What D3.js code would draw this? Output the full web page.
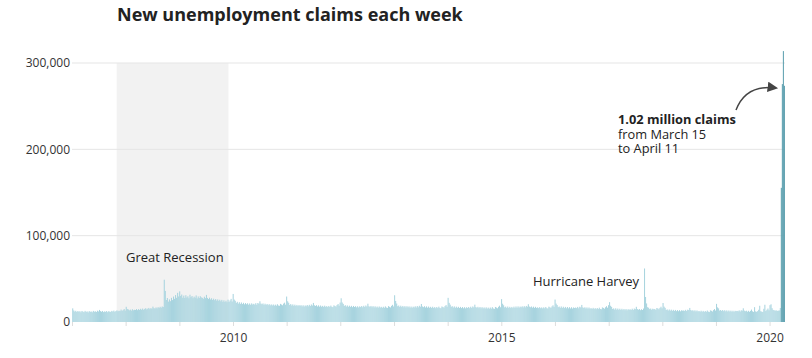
<!DOCTYPE html>
<html>
<head>
<meta charset="utf-8">
<script src="https://cdn.jsdelivr.net/npm/d3@7"></script>
<style>
  html, body { margin: 0; padding: 0; background: #fff; }
  svg { display: block; font-family: "Open Sans", sans-serif; }
</style>
</head>
<body>
<svg id="chart" width="812" height="358"></svg>
<script>
// Weekly new unemployment claims (thousands), weeks ending Saturday
const claims2007 = [15.8,13.4,12.1,13.0,11.6,12.7,11.9,12.5,11.2,12.8,12.0,11.4,12.9,11.7,12.3,11.1,12.6,11.8,12.2,11.3,12.9,11.9,12.4,11.6,13.1,12.2,14.0,12.6,11.9,12.8,11.5,12.3,11.8,12.7,11.4,12.5,12.0,11.7,12.9,12.1,13.2,11.8,12.7,13.5,12.4,13.1,12.6,14.4,12.9,13.8,15.0,13.2];
const claims2008 = [17.6,15.1,14.6,13.5,14.4,13.2,14.8,13.6,14.2,13.9,15.0,13.7,14.9,14.0,15.3,14.2,15.6,14.1,15.2,16.0,14.6,15.5,16.3,14.9,16.1,15.4,17.8,16.0,15.7,16.9,15.8,17.2,16.3,17.6,16.5,18.0,17.4,49.0,36.0,25.5,27.8,23.6,26.2,24.1,28.0,25.4,29.5,26.8,31.2,28.0,33.8,29.6];
const claims2009 = [35.5,30.2,31.8,28.1,30.6,27.9,31.0,28.4,29.8,27.5,31.6,28.8,30.1,27.6,29.4,28.2,30.8,27.3,29.6,27.8,29.9,28.5,28.0,26.9,29.3,27.7,31.4,27.9,26.6,28.2,26.1,27.5,25.6,27.0,25.3,26.6,24.8,26.2,24.5,25.8,24.0,25.6,23.4,25.1,23.2,24.7,22.9,25.9,23.3,25.0,26.8,23.8];
const claims2010 = [32.5,26.0,24.6,22.1,23.4,21.3,22.9,21.0,22.6,20.8,22.2,20.5,21.9,20.6,21.7,20.1,21.5,20.0,21.6,20.3,21.1,20.2,21.8,20.0,22.0,21.2,24.0,21.4,20.6,21.5,19.9,21.2,19.8,20.9,19.5,20.7,19.3,20.4,19.2,20.3,19.0,20.1,18.9,20.6,19.1,18.8,21.0,20.2,19.4,21.3,22.4,20.1];
const claims2011 = [29.5,24.0,22.3,19.7,20.8,19.1,20.4,18.8,20.1,18.6,19.8,18.4,19.6,18.7,19.5,18.1,19.4,17.9,19.2,18.3,19.7,18.2,19.9,18.5,20.3,19.1,22.1,19.4,18.6,19.5,18.0,19.3,17.8,19.1,17.7,18.7,17.5,18.9,17.6,18.4,17.3,18.6,17.4,19.0,17.6,17.2,19.3,18.5,17.8,19.6,20.8,18.9,22.5];
const claims2012 = [27.5,22.6,21.0,18.6,19.5,17.9,19.2,17.6,18.9,17.5,18.7,17.2,18.6,17.4,18.3,17.0,18.2,16.9,18.1,17.3,18.5,17.1,18.8,17.4,19.1,18.0,21.2,18.3,17.5,18.6,17.1,18.4,16.9,18.2,16.8,17.9,16.6,18.0,16.7,17.6,16.4,17.7,16.5,18.1,16.8,16.3,18.4,17.6,16.9,18.7,19.9,18.0];
const claims2013 = [31.0,24.4,21.4,18.3,19.1,17.5,18.9,17.3,18.6,17.1,18.4,16.9,18.3,17.0,18.1,16.6,17.9,16.5,17.8,16.9,18.2,16.8,18.5,17.0,18.8,17.7,20.9,18.0,17.2,18.3,16.8,18.1,16.6,17.9,16.5,17.6,16.3,17.7,16.2,17.3,16.0,17.4,16.1,17.8,16.4,15.9,18.0,17.3,16.6,18.4,19.6,17.7];
const claims2014 = [28.0,22.2,20.1,17.6,18.3,16.8,18.1,16.5,17.8,16.4,17.6,16.2,17.5,16.1,17.3,15.9,17.2,15.8,17.1,16.2,17.4,16.0,17.7,16.3,18.0,17.0,20.1,17.3,16.5,17.6,16.1,17.4,15.9,17.2,15.8,16.9,15.6,17.0,15.5,16.7,15.4,16.8,15.5,17.2,15.7,15.2,17.4,16.7,15.9,17.6,18.9,17.1];
const claims2015 = [26.5,21.2,19.4,17.0,17.8,16.4,17.9,16.3,17.6,16.2,17.5,16.1,17.8,16.4,18.0,16.5,18.1,16.6,17.9,17.1,18.2,16.9,18.4,17.0,18.6,17.7,20.6,17.9,17.1,18.0,16.6,17.8,16.4,17.6,16.3,17.0,16.1,17.2,16.0,16.9,15.8,17.0,15.9,17.4,16.0,15.6,17.8,17.1,16.3,18.0,19.3,17.5];
const claims2016 = [26.0,21.3,19.6,17.2,17.9,16.4,18.0,16.3,17.7,16.1,17.5,15.9,17.4,15.8,17.2,15.7,17.1,15.6,16.9,16.2,16.8,16.1,17.5,15.9,17.7,16.9,19.8,17.0,16.2,17.1,15.7,16.9,15.5,16.8,15.4,16.1,15.1,16.4,15.0,16.1,14.9,16.2,15.0,16.6,15.1,14.8,16.9,16.3,15.4,17.1,18.3,16.6,19.5];
const claims2017 = [23.0,18.8,17.5,15.1,15.8,14.4,15.9,14.3,15.6,14.1,15.4,13.9,15.3,13.8,15.1,13.7,15.0,13.6,14.8,14.2,14.7,14.0,15.4,13.9,15.6,14.9,17.6,15.0,14.2,15.0,13.7,14.8,13.9,15.6,62.0,29.0,21.5,17.2,16.5,15.0,15.6,14.2,15.4,14.8,15.1,14.0,16.2,15.6,14.7,16.4,17.7,15.9];
const claims2018 = [22.0,17.8,16.4,13.9,14.6,13.3,14.5,13.1,14.3,12.9,14.1,12.8,14.0,12.6,13.8,12.5,13.7,12.4,13.6,13.1,13.4,12.9,14.1,12.7,14.3,13.8,16.3,13.9,13.0,13.7,12.5,13.6,12.3,13.4,12.2,12.8,11.9,13.1,11.8,12.9,11.6,12.8,11.8,13.3,12.0,11.5,13.5,13.0,12.2,13.8,15.0,13.3];
const claims2019 = [21.0,17.0,15.8,13.3,13.9,12.8,13.9,12.6,13.7,12.4,13.5,12.2,13.4,12.1,13.2,11.9,13.1,11.8,13.0,12.6,12.9,12.4,13.5,12.2,13.6,13.2,15.9,13.2,12.5,13.1,11.9,13.0,11.8,12.9,14.4,12.4,11.7,17.2,12.3,11.8,12.6,14.2,18.8,12.5,12.0,11.6,15.3,20.0,12.7,14.2,15.6,13.6];
const claims2020 = [19.5,20.5,16.0,14.0,13.6,13.2,13.5,12.9,13.1,13.4,16.2,155.4,275.6,313.8,273.6];

const years = [2007,2008,2009,2010,2011,2012,2013,2014,2015,2016,2017,2018,2019,2020];
const yearSeries = [claims2007,claims2008,claims2009,claims2010,claims2011,claims2012,claims2013,claims2014,claims2015,claims2016,claims2017,claims2018,claims2019,claims2020];

const yTicks = [0, 100000, 200000, 300000];
const xLabelYears = [2010, 2015, 2020];
const title = "New unemployment claims each week";
const recession = [new Date(2007, 10, 1), new Date(2009, 11, 1)];
const highlightStart = new Date(2020, 2, 15);
const annoLines = ["1.02 million claims", "from March 15", "to April 11"];

// build weekly data
const data = [];
years.forEach((yr, i) => {
  const sats = d3.timeSaturday.range(new Date(yr, 0, 1), new Date(yr + 1, 0, 1));
  const vals = yearSeries[i];
  for (let k = 0; k < Math.min(sats.length, vals.length); k++) {
    data.push({ date: sats[k], value: vals[k] * 1000 });
  }
});

const svg = d3.select("#chart");
const x = d3.scaleTime().domain([new Date(2007, 0, 1), new Date(2020, 3, 15)]).range([72, 785]);
const y = d3.scaleLinear().domain([0, 300000]).range([322, 63]);

// recession shading
svg.append("rect")
  .attr("x", x(recession[0])).attr("y", y(300000))
  .attr("width", x(recession[1]) - x(recession[0]))
  .attr("height", y(0) - y(300000))
  .attr("fill", "#f2f2f2");

// gridlines
svg.append("g").selectAll("line").data(yTicks.filter(d => d > 0)).join("line")
  .attr("x1", 72).attr("x2", 785)
  .attr("y1", d => y(d)).attr("y2", d => y(d))
  .attr("stroke", "#e5e5e5").attr("stroke-width", 1);

// y axis labels
const yAxis = d3.axisLeft(y).tickValues(yTicks).tickFormat(d3.format(",")).tickSize(0).tickPadding(2);
const gy = svg.append("g").attr("transform", "translate(72,0)").call(yAxis);
gy.select(".domain").remove();
gy.selectAll("text").attr("font-size", 12).attr("fill", "#333").attr("font-family", "Open Sans, sans-serif");

// bars
const wk = (x(new Date(2010, 0, 8)) - x(new Date(2010, 0, 1)));
svg.append("g").selectAll("rect").data(data).join("rect")
  .attr("x", d => x(d.date) - wk / 2)
  .attr("width", wk)
  .attr("y", d => y(d.value))
  .attr("height", d => y(0) - y(d.value))
  .attr("fill", d => d.date >= highlightStart ? "#5b9fae" : "#a8d4df");

// x axis
const xAxis = d3.axisBottom(x).ticks(d3.timeYear.every(1)).tickSize(4)
  .tickFormat(d => xLabelYears.includes(d.getFullYear()) ? d.getFullYear() : "");
const gx = svg.append("g").attr("transform", "translate(0,322)").call(xAxis);
gx.select(".domain").remove();
gx.selectAll(".tick line").attr("stroke", "#ddd");
gx.selectAll("text").attr("font-size", 12).attr("fill", "#333").attr("dy", "1.05em").attr("font-family", "Open Sans, sans-serif");

// title
svg.append("text").attr("x", 117).attr("y", 21)
  .attr("font-size", 18).attr("font-weight", "bold").attr("fill", "#222")
  .text(title);

// annotations
svg.append("text").attr("x", 126).attr("y", 262).attr("font-size", 13).attr("fill", "#222").text("Great Recession");
svg.append("text").attr("x", 533).attr("y", 286).attr("font-size", 13).attr("fill", "#222").text("Hurricane Harvey");

const anno = svg.append("text").attr("x", 618).attr("y", 124).attr("font-size", 12.8).attr("fill", "#222");
anno.append("tspan").attr("x", 618).attr("font-weight", "bold").text(annoLines[0]);
anno.append("tspan").attr("x", 618).attr("dy", 14.5).text(annoLines[1]);
anno.append("tspan").attr("x", 618).attr("dy", 14.5).text(annoLines[2]);

svg.append("defs").append("marker").attr("id", "arr")
  .attr("viewBox", "0 0 10 10").attr("refX", 8).attr("refY", 5)
  .attr("markerWidth", 7).attr("markerHeight", 7).attr("orient", "auto")
  .append("path").attr("d", "M0,0 L10,5 L0,10 Z").attr("fill", "#444");
svg.append("path")
  .attr("d", "M736,110 Q746,84 776,88")
  .attr("fill", "none").attr("stroke", "#444").attr("stroke-width", 1.5)
  .attr("marker-end", "url(#arr)");
</script>
</body>
</html>
